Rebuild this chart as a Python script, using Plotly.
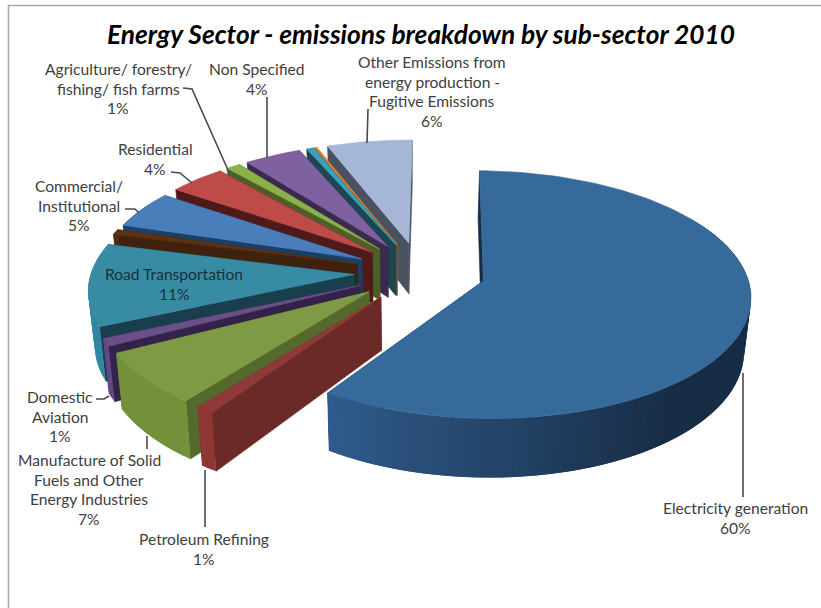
import numpy as np
import plotly.graph_objects as go

# Sub-sector shares in percent, clockwise from twelve o'clock
sectors = ["Electricity generation", "Petroleum Refining",
           "Manufacture of Solid Fuels and Other Energy Industries",
           "Domestic Aviation", "Road Transportation", "Other Transportation",
           "Commercial/ Institutional", "Residential",
           "Agriculture/ forestry/ fishing/ fish farms", "Non Specified",
           "Other Sectors", "Solid Fuels", "Other Emissions from energy production - Fugitive Emissions"]
shares = [60, 1, 7, 1, 11, 0.7, 5, 4, 1, 4, 0.5, 0.15, 6]
top_colors = ["#366a9b", "#8f3a38", "#7f9a45", "#6a5088", "#378ca4", "#5c3214", "#4a7ebb",
              "#be4b48", "#8cb04a", "#7f60a0", "#3aa0bd", "#e8862e", "#a5b6d6"]
rim_colors = ["#2f5a8a", "#8a3533", "#6e8a38", "#5e4680", "#2e819c", "#4d2a10", "#1c3f66",
              "#a53f3d", "#6f8c3a", "#5e4680", "#2e7f98", "#b86a24", "#7f8daa"]
wall_colors = ["#152b42", "#6b2a28", "#55692d", "#33234a", "#1a3f4c", "#3f220e", "#1c3f66",
               "#4f1b1a", "#4d5f26", "#3a2a4f", "#1c4652", "#8f5a20", "#4a5160"]

# Labels: text lines, centre x, y of the first line
labels = [
    (["Electricity generation", "60%"], 735, 508),
    (["Petroleum Refining", "1%"], 204, 539),
    (["Manufacture of Solid", "Fuels and Other", "Energy Industries", "7%"], 89, 460),
    (["Domestic", "Aviation", "1%"], 60, 397),
    (["Road Transportation", "11%"], 174, 274),
    (["Commercial/", "Institutional", "5%"], 79, 186),
    (["Residential", "4%"], 155, 149),
    (["Agriculture/ forestry/", "fishing/ fish farms", "1%"], 118, 69),
    (["Non Specified", "4%"], 257, 69),
    (["Other Emissions from", "energy production -", "Fugitive Emissions", "6%"], 432, 62),
]
leaders = [
    ([743, 743], [373, 497]),
    ([205, 205], [470, 527]),
    ([147, 147], [436, 449]),
    ([96, 104, 109], [399, 399, 396]),
    ([125, 135, 139], [209, 209, 213]),
    ([171, 180, 192], [172, 173, 183]),
    ([183, 192, 228], [88, 89, 170]),
    ([267, 267], [97, 158]),
    ([368, 367], [109, 143]),
]

# Projection of the tilted, exploded pie on to the page
CX, CY, RX, RY, PERSP = 420.0, 272.0, 263.0, 120.4, 0.11
EXPLODE, DEPTH, VANISH_X, CONVERGE = 0.25, 52.0, 408.0, 0.02
START_ANGLE = 0.6


def project(X, V, lower=False):
    s = 1.0 / (1.0 - PERSP * np.asarray(V, dtype=float))
    x = CX + RX * np.asarray(X, dtype=float) * s
    y = CY + RY * np.asarray(V, dtype=float) * s
    if lower:
        x = x + (VANISH_X - x) * CONVERGE
        y = y + DEPTH * s
    return x, y


def polygon(fig, x, y, color, stroke=0.6):
    fig.add_trace(go.Scatter(
        x=list(x), y=list(y), mode="lines", fill="toself", fillcolor=color,
        line=dict(color=color, width=stroke), hoverinfo="skip", showlegend=False))


def shade(hex_color, f):
    rgb = [int(hex_color[i:i + 2], 16) for i in (1, 3, 5)]
    return "rgb(%d,%d,%d)" % tuple(min(255, int(c * f)) for c in rgb)


def rim_shade(deg):
    # Outer wall darkens as it turns toward the right-hand side
    return float(np.clip(0.5 + (deg - 140) / 70 * 0.5, 0.5, 1.05))


fig = go.Figure()
total = sum(shares)
edges = START_ANGLE + np.concatenate([[0], np.cumsum(shares)]) / total * 360

# Paint from the back of the pie to the front
for i in list(range(len(shares) - 1, 0, -1)) + [0]:
    a0, a1 = edges[i], edges[i + 1]
    mid = np.radians((a0 + a1) / 2)
    ox, ov = EXPLODE * np.sin(mid), -EXPLODE * np.cos(mid)

    n = max(4, int((a1 - a0) / 1.5))
    deg = np.linspace(a0, a1, n)
    rad = np.radians(deg)
    rim_X, rim_V = ox + np.sin(rad), ov - np.cos(rad)

    # Radial walls
    for e in (a0, a1):
        r = np.radians(e)
        XX = [ox, ox + np.sin(r)]
        VV = [ov, ov - np.cos(r)]
        xt, yt = project(XX, VV)
        xb, yb = project(XX, VV, lower=True)
        polygon(fig, [xt[0], xt[1], xb[1], xb[0], xt[0]],
                [yt[0], yt[1], yb[1], yb[0], yt[0]], wall_colors[i])

    # Outer wall in overlapping bands so the shading varies without seams
    xt, yt = project(rim_X, rim_V)
    xb, yb = project(rim_X, rim_V, lower=True)
    for k in range(n - 2, -1, -1):
        d = (deg[k] + deg[k + 1]) / 2
        if 60 < d < 300:
            m = min(k + 2, n - 1)
            polygon(fig, [xt[k], *xt[k + 1:m + 1], *xb[k + 1:m + 1][::-1], xb[k], xt[k]],
                    [yt[k], *yt[k + 1:m + 1], *yb[k + 1:m + 1][::-1], yb[k], yt[k]],
                    shade(rim_colors[i], rim_shade(d)), stroke=0)

    # Top face
    ax, ay = project([ox], [ov])
    polygon(fig, [ax[0], *xt, ax[0]], [ay[0], *yt, ay[0]], top_colors[i])

for lx, ly in leaders:
    fig.add_trace(go.Scatter(x=lx, y=ly, mode="lines", line=dict(color="#4a4a4a", width=1.6),
                             hoverinfo="skip", showlegend=False))

LINE_GAP = 19.6
for lines, cx, y0 in labels:
    for j, text in enumerate(lines):
        fig.add_annotation(x=cx, y=y0 + j * LINE_GAP, text=text, showarrow=False,
                           xanchor="center", yanchor="middle",
                           font=dict(family="Lato", size=15.6,
                                     color="#1b2f3a" if text.startswith(("Road", "11%")) else "#404040"))

fig.add_annotation(x=421, y=34, text="<b><i>Energy Sector - emissions breakdown by sub-sector 2010</i></b>",
                   showarrow=False, xanchor="center", yanchor="middle",
                   font=dict(family="Lato", size=26.3, color="#000000"))

fig.add_shape(type="rect", x0=8.5, y0=5.5, x1=835, y1=625,
              line=dict(color="#a9a9a9", width=1.6), layer="below")

fig.update_layout(
    width=821, height=608, margin=dict(l=0, r=0, t=0, b=0),
    paper_bgcolor="white", plot_bgcolor="white", showlegend=False,
    xaxis=dict(range=[0, 821], visible=False, fixedrange=True),
    yaxis=dict(range=[608, 0], visible=False, fixedrange=True),
)
fig.write_html("out.html", config={"displayModeBar": False})
